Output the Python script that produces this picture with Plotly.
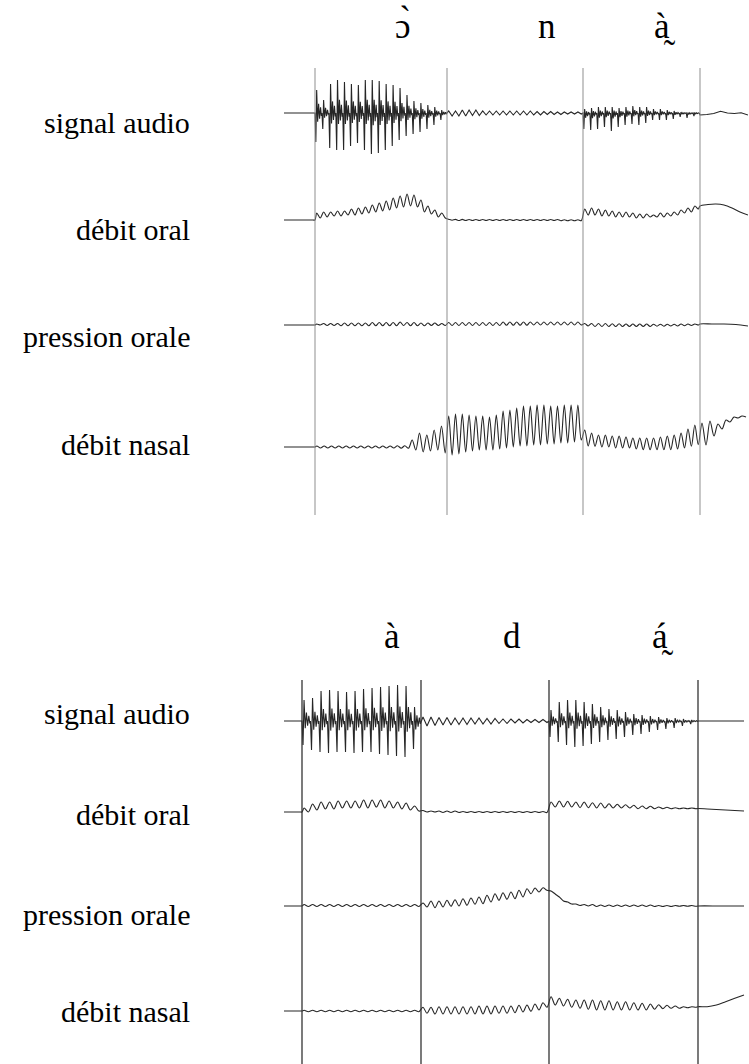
import plotly.graph_objects as go

# ---------------- data (amplitudes in arbitrary units) ----------------
channels = ["signal audio", "débit oral", "pression orale", "débit nasal"]

# Panel 1: ɔ̀ n à̰
p1_phones = ["\u0254\u0300", "n", "a\u0300\u0330"]
p1_bounds = [31, 163, 299, 416]      # segment boundaries (time units)
p1_end = 464

# signal audio (per-cycle positive / negative peaks)
p1_audio_s1_top = [23, 13, 29, 33, 31, 29, 28, 33, 33, 32, 29, 28, 25, 18, 12, 10, 8, 6, 3]
p1_audio_s1_bot = [-29, -16, -35, -37, -37, -33, -30, -37, -41, -40, -37, -33, -27, -23, -21, -19, -16, -12, -7]
p1_audio_s2_top = [2, 2, 3, 3, 3, 2, 2, 2, 2, 2, 2, 2, 2, 1.5, 1.5, 1.5, 1, 1, 1, 1]
p1_audio_s2_bot = [-3, -3, -3, -2.5, -2.5, -2, -2, -2, -2, -2, -2, -2, -2, -2, -1.5, -1.5, -1.5, -1, -1, -1]
p1_audio_s3_top = [4, 5, 6, 6, 6, 5, 6, 7, 6, 6, 4, 4, 3, 2, 1, 0.5, 0.5]
p1_audio_s3_bot = [-16, -17, -16, -14, -18, -14, -12, -11, -12, -10, -7, -7, -7, -6, -4, -5, -3]
p1_audio_s4_lvl = [-2, -1.5, -0.5, 1.7, 0, -0.5, 0.3, -2]

# débit oral
p1_oral_s1_top = [7, 8, 8, 9, 9, 11, 12, 13, 15, 17, 19, 22, 24, 26, 25, 20, 14, 10, 7]
p1_oral_s1_bot = [2, 3, 4, 4, 5, 5, 6, 7, 8, 9, 10, 12, 13, 14, 13, 8, 6, 3, 2]
p1_oral_s2_top = [0.8, 0.6, 0.6, 0.5, 0.5, 0.5, 0.5, 0.5, 0.5, 0.5, 0.5, 0.5, 0.5, 0.5, 0.5, 0.5, 0.5, 0.3, 0.3, 0.3]
p1_oral_s2_bot = [-0.3, -0.5, -0.5, -0.5, -0.5, -0.5, -0.5, -0.5, -0.5, -0.5, -0.5, -0.5, -0.5, -0.5, -0.5, -0.5, -0.7, -0.7, -0.7, -0.7]
p1_oral_s3_top = [11, 12, 11, 10, 9, 8, 8, 7, 6, 6, 5, 7, 7, 8, 10, 12, 14]
p1_oral_s3_bot = [5, 5, 4, 4, 3, 3, 3, 2, 2, 3, 3, 3, 4, 5, 7, 8, 11]
p1_oral_s4_lvl = [14, 15.5, 16, 15, 12, 8, 5]

# pression orale
p1_press_s1_top = [1, 1.5, 1.5, 1.5, 2, 2, 2, 2, 2.5, 2.5, 2.5, 2.5, 3, 2.5, 2.5, 2, 2, 2, 1.5]
p1_press_s1_bot = [0, -0.5, -0.5, -0.8, -0.8, -0.8, -0.8, -0.8, -0.8, -0.8, -0.8, -0.8, -0.5, -0.8, -0.8, -0.8, -0.5, -0.5, -0.5]
p1_press_s2_top = [2.5, 2.5, 2.5, 2.5, 2.5, 2.5, 2.5, 2.5, 3, 3, 3, 3, 3, 3, 3, 3, 3, 3, 3, 3]
p1_press_s2_bot = [-0.5, -0.5, -0.5, -0.5, -0.5, -0.5, -0.5, -0.5, -0.3, -0.3, -0.3, -0.3, 0, 0, 0, 0, 0, 0, 0, 0]
p1_press_s3_top = [1.5, 1.5, 1.5, 1.5, 1.2, 1.2, 1, 1, 1, 1, 0.8, 0.8, 0.8, 0.8, 1, 1, 1]
p1_press_s3_bot = [-1, -1.5, -1.5, -1.5, -1.5, -1.5, -1.5, -1.5, -1.5, -1.5, -1.2, -1.2, -1, -1, -0.8, -0.5, 0]
p1_press_s4_lvl = [1, 1, 1, 0.5, -1]

# débit nasal
p1_nasal_s1_top = [1, 1, 1, 1, 1, 1, 1, 1, 1, 1, 1, 1.3, 1.3, 7, 14, 12, 17, 21]
p1_nasal_s1_bot = [-1, -1, -1, -1, -1, -1, -1, -1, -1, -1, -1, -1.3, -1.3, -3, -5, -4, -3, -6]
p1_nasal_s2_top = [31, 33, 33, 32, 31, 31, 30, 32, 36, 37, 39, 41, 41, 42, 42, 41, 41, 42, 42, 42]
p1_nasal_s2_bot = [-8, -7, -5, -4, -3, -3, -3, -2, -1, 0, 1, 1, 2, 2, 3, 3, 4, 4, 5, 7]
p1_nasal_s3_top = [17, 14, 12, 12, 11, 11, 10, 9, 9, 9, 9, 10, 11, 12, 14, 18, 22]
p1_nasal_s3_bot = [1, 0.7, 0, 0, -1, -1, -1, -2, -2.7, -2.7, -2.7, -2.7, -2.7, -2, -1, 0.7, 2.3]
p1_nasal_s4_top = [24, 26, 23, 27, 30, 31]
p1_nasal_s4_bot = [2, 11, 18, 25, 29, 30]

# Panel 2: à d á̰
p2_phones = ["\u00e0", "d", "a\u0301\u0330"]
p2_bounds = [18, 137, 265, 414]
p2_end = 460

p2_audio_s1_top = [21, 23, 30, 31, 30, 29, 30, 32, 33, 34, 35, 36, 35, 14]
p2_audio_s1_bot = [-24, -29, -31, -32, -31, -31, -32, -31, -31, -33, -34, -35, -36, -28]
p2_audio_s2_top = [4, 4, 3.5, 3.5, 3, 3, 3, 3, 2.5, 2.5, 2, 2, 2, 1.5, 1.5, 1.5]
p2_audio_s2_bot = [-5, -4.5, -4, -4, -3.5, -3.5, -3, -3, -3, -2.5, -2.5, -2, -2, -1.5, -1.5, -1.5]
p2_audio_s3_top = [11, 19, 21, 21, 19, 17, 14, 12, 11, 9, 7, 6, 5, 4, 3, 3, 2, 1]
p2_audio_s3_bot = [-16, -21, -24, -26, -25, -23, -21, -19, -18, -16, -14, -13, -11, -9, -8, -7, -5, -3]
p2_audio_s4_lvl = [0, 0, 0]

p2_oral_s1_top = [4, 8, 10, 10, 11, 11, 11, 12, 12, 12, 11, 10, 9, 6]
p2_oral_s1_bot = [0, 2, 3, 3, 4, 4, 4, 4, 5, 4, 4, 3, 2, 1]
p2_oral_s2_top = [1.5, 1, 1, 1, 1, 0.5, 0.5, 0.5, 0.5, 0.5, 0.5, 0.5, 0.5, 0.5, 0.5, 0.5]
p2_oral_s2_bot = [0, 0, -0.5, -0.5, -0.5, -0.5, -0.5, -0.5, -0.5, -0.5, -0.5, -0.5, -0.5, -0.5, -0.5, -0.5]
p2_oral_s3_top = [10, 11, 10.7, 10, 10, 9.3, 9, 8.3, 7.7, 7.3, 6.7, 6, 5.7, 5, 4.7, 4.3, 4, 4]
p2_oral_s3_bot = [5, 5, 5, 4.3, 4.3, 4, 4, 4, 4, 4, 3.3, 3.3, 3.3, 3.3, 3.3, 3.3, 3.3, 3.3]
p2_oral_s4_lvl = [3.5, 3, 2.5, 2, 1.5, 1]

p2_press_s1_top = [1.5, 1.5, 1.5, 1.5, 1.5, 1.5, 1.5, 1.5, 1.5, 1.5, 1.5, 1.5, 1.5, 1.5]
p2_press_s1_bot = [-0.5, -0.5, -0.5, -0.5, -0.5, -0.5, -0.5, -0.5, -0.5, -0.5, -0.5, -0.5, -0.5, -0.5]
p2_press_s2_top = [3, 5, 5, 5.7, 6.3, 7.3, 8, 9, 10.7, 12.3, 13.3, 14, 15.7, 17.3, 18, 18.3]
p2_press_s2_bot = [-1, -1.7, -1, -0.3, 0, 0.7, 1.7, 2.3, 4, 5.7, 6.7, 7.3, 9, 12.3, 14, 15.7]
p2_press_s3_top = [15, 9, 4, 2, 1.5, 1.5, 1, 1, 1, 1, 1, 1, 1, 0.5, 0.5, 0.5, 0.5, 0.5]
p2_press_s3_bot = [12, 5, 2, 0.5, 0, -0.5, -0.5, -0.5, -0.5, -0.5, -0.5, -0.5, -0.5, -0.5, -0.5, -0.3, -0.3, -0.3]
p2_press_s4_lvl = [0, 0, 0]

p2_nasal_s1_top = [0.7, 0.7, 0.7, 0.7, 0.7, 0.7, 0.7, 0.7, 0.7, 0.7, 0.7, 0.7, 0.7, 0.7]
p2_nasal_s1_bot = [-0.7, -0.7, -0.7, -0.7, -0.7, -0.7, -0.7, -0.7, -0.7, -0.7, -0.7, -0.7, -0.7, -0.7]
p2_nasal_s2_top = [3.7, 3.7, 4.3, 4.3, 4.3, 4.3, 4.3, 5, 5, 5, 5, 5, 5.7, 6, 7, 8.3]
p2_nasal_s2_bot = [-2.3, -3, -3, -3, -3, -3, -3, -3, -3, -2.3, -2.3, -1.7, -1, -0.3, 1, 3.7]
p2_nasal_s3_top = [14.3, 12.7, 11.7, 11, 11, 11, 10.3, 10.3, 9.3, 9.3, 8.3, 7.7, 7, 6.3, 5.7, 5, 4.3, 4.3]
p2_nasal_s3_bot = [6, 5, 3.7, 2.7, 1.7, 1, 1, 1, 1, 1, 1, 1, 1.7, 2.3, 2.7, 2.7, 3.3, 3.7]
p2_nasal_s4_lvl = [4.3, 4.3, 6, 9.3, 12.7, 16]

# ---------------- construction helpers ----------------
def ripple(t0, t1, tops, bots):
    n = len(tops)
    T = (t1 - t0) / n
    xs, ys = [], []
    for i in range(n):
        xs += [t0 + (i + 0.25) * T, t0 + (i + 0.75) * T]
        ys += [tops[i], bots[i]]
    return xs, ys


def voiced(t0, t1, tops, bots):
    n = len(tops)
    T = (t1 - t0) / n
    fr = [0.0, 0.12, 0.24, 0.38, 0.52, 0.66, 0.8, 0.92]
    xs, ys = [], []
    for i in range(n):
        p, q = tops[i], bots[i]
        shape = [0, q, p, 0.3 * q, 0.4 * p, 0.2 * q, 0.25 * p, 0.1 * q]
        for f, v in zip(fr, shape):
            xs.append(t0 + (i + f) * T)
            ys.append(v)
    return xs, ys


def levels(t0, t1, lv):
    n = len(lv)
    xs = [t0 + k * (t1 - t0) / (n - 1) for k in range(n)]
    return xs, list(lv)


def channel(bounds, end, segs):
    edges = [0] + bounds + [end]
    # flat lead-in before the first boundary (extra points keep the spline flat)
    xs = [0, edges[1] * 0.5, edges[1] - 2, edges[1]]
    ys = [0, 0, 0, 0]
    for k, seg in enumerate(segs):
        a, b = edges[k + 1], edges[k + 2]
        kind = seg[0]
        if kind == "v":
            sx, sy = voiced(a, b, seg[1], seg[2])
        elif kind == "r":
            sx, sy = ripple(a, b, seg[1], seg[2])
        else:
            sx, sy = levels(a, b, seg[1])
        xs += sx
        ys += sy
    return xs, ys


p1_chan = [
    [("v", p1_audio_s1_top, p1_audio_s1_bot), ("r", p1_audio_s2_top, p1_audio_s2_bot),
     ("v", p1_audio_s3_top, p1_audio_s3_bot), ("l", p1_audio_s4_lvl)],
    [("r", p1_oral_s1_top, p1_oral_s1_bot), ("r", p1_oral_s2_top, p1_oral_s2_bot),
     ("r", p1_oral_s3_top, p1_oral_s3_bot), ("l", p1_oral_s4_lvl)],
    [("r", p1_press_s1_top, p1_press_s1_bot), ("r", p1_press_s2_top, p1_press_s2_bot),
     ("r", p1_press_s3_top, p1_press_s3_bot), ("l", p1_press_s4_lvl)],
    [("r", p1_nasal_s1_top, p1_nasal_s1_bot), ("r", p1_nasal_s2_top, p1_nasal_s2_bot),
     ("r", p1_nasal_s3_top, p1_nasal_s3_bot), ("r", p1_nasal_s4_top, p1_nasal_s4_bot)],
]
p2_chan = [
    [("v", p2_audio_s1_top, p2_audio_s1_bot), ("r", p2_audio_s2_top, p2_audio_s2_bot),
     ("v", p2_audio_s3_top, p2_audio_s3_bot), ("l", p2_audio_s4_lvl)],
    [("r", p2_oral_s1_top, p2_oral_s1_bot), ("r", p2_oral_s2_top, p2_oral_s2_bot),
     ("r", p2_oral_s3_top, p2_oral_s3_bot), ("l", p2_oral_s4_lvl)],
    [("r", p2_press_s1_top, p2_press_s1_bot), ("r", p2_press_s2_top, p2_press_s2_bot),
     ("r", p2_press_s3_top, p2_press_s3_bot), ("l", p2_press_s4_lvl)],
    [("r", p2_nasal_s1_top, p2_nasal_s1_bot), ("r", p2_nasal_s2_top, p2_nasal_s2_bot),
     ("r", p2_nasal_s3_top, p2_nasal_s3_bot), ("l", p2_nasal_s4_lvl)],
]

# ---------------- layout geometry ----------------
W, H = 749, 1064
X0, X1 = 284, 748            # pixel extent of the time axis
P1_TOP, P1_BOT = 60, 520     # pixel extent of panel 1
P2_TOP, P2_BOT = 670, 1064
p1_offsets = [0, -107, -212, -334]
p2_offsets = [0, -91, -185, -290]
p1_label_px = [122, 229, 336, 444]
p2_label_px = [713, 814, 914, 1011]
p1_phone_px = [(403, 25), (547, 26), (665, 26)]
p2_phone_px = [(392, 636), (512, 636), (663, 636)]

INK = "#262626"
SERIF = "Liberation Serif, Times New Roman, serif"

fig = go.Figure()

for ch in range(4):
    xs, ys = channel(p1_bounds, p1_end, p1_chan[ch])
    fig.add_trace(go.Scatter(
        x=xs, y=[v + p1_offsets[ch] for v in ys], mode="lines",
        line=dict(color=INK, width=1.1, shape="linear" if ch == 0 else "spline", smoothing=0.9),
        xaxis="x", yaxis="y", hoverinfo="skip", showlegend=False))
    xs, ys = channel(p2_bounds, p2_end, p2_chan[ch])
    fig.add_trace(go.Scatter(
        x=xs, y=[v + p2_offsets[ch] for v in ys], mode="lines",
        line=dict(color=INK, width=1.1, shape="linear" if ch == 0 else "spline", smoothing=0.9),
        xaxis="x2", yaxis="y2", hoverinfo="skip", showlegend=False))

shapes = []
for b in p1_bounds:
    shapes.append(dict(type="line", xref="x", yref="y", x0=b, x1=b,
                       y0=113 - 515, y1=113 - 68, line=dict(color="#8f8f8f", width=1)))
for b in p2_bounds:
    shapes.append(dict(type="line", xref="x2", yref="y2", x0=b, x1=b,
                       y0=721 - 1064, y1=721 - 680, line=dict(color="#333333", width=1.3)))

ann = []
for name, py in zip(channels, p1_label_px):
    ann.append(dict(text=name, x=192 / W, y=1 - py / H, xref="paper", yref="paper",
                    xanchor="right", yanchor="middle", showarrow=False,
                    font=dict(family=SERIF, size=30, color="black")))
for name, py in zip(channels, p2_label_px):
    ann.append(dict(text=name, x=192 / W, y=1 - py / H, xref="paper", yref="paper",
                    xanchor="right", yanchor="middle", showarrow=False,
                    font=dict(family=SERIF, size=30, color="black")))
for ph, (px, py) in zip(p1_phones + p2_phones, p1_phone_px + p2_phone_px):
    ann.append(dict(text=ph, x=px / W, y=1 - py / H, xref="paper", yref="paper",
                    xanchor="center", yanchor="middle", showarrow=False,
                    font=dict(family=SERIF, size=35, color="black")))

axis_off = dict(visible=False, showgrid=False, zeroline=False, fixedrange=True)
fig.update_layout(
    width=W, height=H, autosize=False,
    margin=dict(l=0, r=0, t=0, b=0),
    paper_bgcolor="white", plot_bgcolor="white",
    xaxis=dict(domain=[X0 / W, X1 / W], range=[0, X1 - X0], anchor="y", **axis_off),
    yaxis=dict(domain=[1 - P1_BOT / H, 1 - P1_TOP / H], range=[113 - P1_BOT, 113 - P1_TOP],
               anchor="x", **axis_off),
    xaxis2=dict(domain=[X0 / W, X1 / W], range=[0, X1 - X0], anchor="y2", **axis_off),
    yaxis2=dict(domain=[1 - P2_BOT / H, 1 - P2_TOP / H], range=[721 - P2_BOT, 721 - P2_TOP],
                anchor="x2", **axis_off),
    shapes=shapes, annotations=ann,
)

fig.write_html("out.html", config={"displayModeBar": False})

# remove the browser's default page margin so the figure sits at the window origin
with open("out.html", "r", encoding="utf-8") as fh:
    html = fh.read()
html = html.replace("<body>", '<body style="margin:0;padding:0;overflow:hidden">', 1)
with open("out.html", "w", encoding="utf-8") as fh:
    fh.write(html)
